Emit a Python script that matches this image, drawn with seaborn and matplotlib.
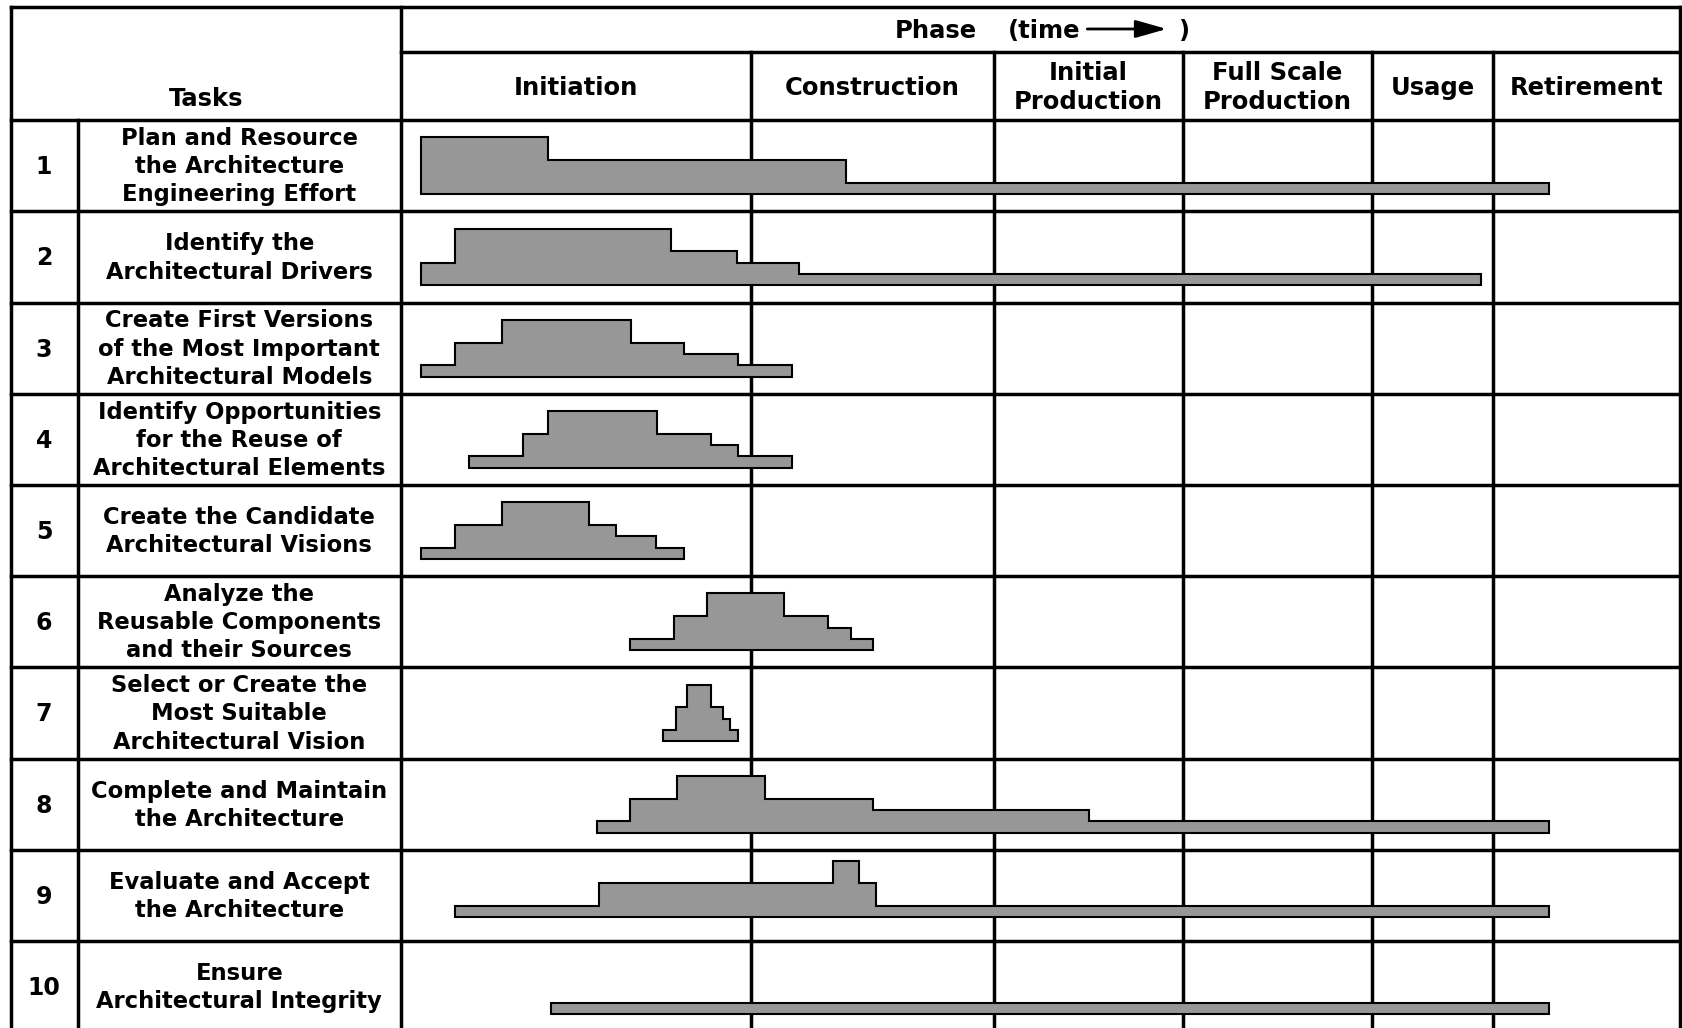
import pandas as pd
import matplotlib.pyplot as plt
import seaborn as sns

# Phases (time runs left to right, 0 = start of Initiation)
phases = ['Initiation', 'Construction', 'Initial\nProduction',
          'Full Scale\nProduction', 'Usage', 'Retirement']
phase_ends = [326, 552, 728, 904, 1017, 1191]

tasks = ['Plan and Resource\nthe Architecture\nEngineering Effort',
         'Identify the\nArchitectural Drivers',
         'Create First Versions\nof the Most Important\nArchitectural Models',
         'Identify Opportunities\nfor the Reuse of\nArchitectural Elements',
         'Create the Candidate\nArchitectural Visions',
         'Analyze the\nReusable Components\nand their Sources',
         'Select or Create the\nMost Suitable\nArchitectural Vision',
         'Complete and Maintain\nthe Architecture',
         'Evaluate and Accept\nthe Architecture',
         'Ensure\nArchitectural Integrity']

# step profiles: time breakpoints and effort level for each step
task_times = [
    [18, 137, 414, 1069],
    [18, 50, 251, 313, 370, 1006],
    [18, 50, 94, 214, 263, 314, 364],
    [63, 113, 137, 238, 288, 314, 364],
    [18, 50, 94, 175, 200, 237, 263],
    [213, 254, 285, 356, 397, 419, 439],
    [244, 256, 266, 288, 300, 306, 314],
    [182, 213, 257, 339, 439, 641, 1069],
    [50, 184, 402, 426, 442, 1069],
    [139, 1069],
]
task_levels = [
    [5, 3, 1],
    [2, 5, 3, 2, 1],
    [1, 3, 5, 3, 2, 1],
    [1, 3, 5, 3, 2, 1],
    [1, 3, 5, 3, 2, 1],
    [1, 3, 5, 3, 2, 1],
    [1, 3, 5, 3, 2, 1],
    [1, 3, 5, 3, 2, 1],
    [1, 3, 5, 3, 1],
    [1],
]

# layout (canvas units, y grows downward)
W, H = 1568, 958
X0 = 374            # x where the time axis starts
LEFT, RIGHT, TOP = 10, 1565, 6.5
SUB = 48.5          # line under "Phase (time ->)"
HDR = 112           # bottom of header
ROW_H = 85
NUM_X = 73
UNIT = 10.6         # height of one effort level
base_off = [69, 69, 69, 69, 69, 69, 69, 69, 63, 68]

sns.set_theme(style='white')
plt.rcParams['font.family'] = ['DejaVu Sans']

fig = plt.figure(figsize=(16.83, 10.28), dpi=100)
ax = fig.add_axes([0, 0, 1, 1])
ax.set_xlim(-X0, W - X0)
ax.set_ylim(H, 0)
ax.axis('off')

lw = 2.5
k = dict(color='black', lw=lw, zorder=1, capstyle='projecting')
# outer frame and dividers
ax.hlines(TOP, LEFT - X0, RIGHT - X0, **k)
ax.vlines([LEFT - X0, RIGHT - X0, 0], TOP, H - 2, **k)
ax.vlines(NUM_X - X0, HDR, H - 2, **k)
ax.hlines(SUB, 0, RIGHT - X0, **k)
ax.vlines(phase_ends[:-1], SUB, H - 2, **k)
row_tops = [HDR + ROW_H * i for i in range(len(tasks))]
ax.hlines(row_tops, LEFT - X0, RIGHT - X0, **k)

# header text
hf = dict(fontsize=17.5, fontweight='bold', color='black')
ax.text(192 - X0, 90, 'Tasks', ha='center', va='center_baseline', **hf)
ax.text(834 - X0, 26.5, 'Phase', ha='left', va='center_baseline', **hf)
ax.text(939 - X0, 26.5, '(time', ha='left', va='center_baseline', **hf)
ax.text(1098 - X0, 26.5, ')', ha='left', va='center_baseline', **hf)
ax.annotate('', xy=(1087 - X0, 27), xytext=(1013 - X0, 27),
            arrowprops=dict(arrowstyle='-|>,head_length=0.95,head_width=0.27',
                            mutation_scale=20, lw=2, color='black',
                            shrinkA=0, shrinkB=0))
starts = [0] + phase_ends[:-1]
for name, a, b in zip(phases, starts, phase_ends):
    lines = name.split('\n')
    for j, ln in enumerate(lines):
        y = 79.5 + (j - (len(lines) - 1) / 2) * 27
        ax.text((a + b) / 2, y, ln, ha='center', va='center_baseline', **hf)

# task rows
polys = []
for i, (name, times, levels) in enumerate(zip(tasks, task_times, task_levels)):
    top = row_tops[i]
    yc = top + ROW_H / 2
    ax.text(41 - X0, yc - 1, str(i + 1), ha='center', va='center_baseline',
            fontsize=17, fontweight='bold', color='black')
    lines = name.split('\n')
    for j, ln in enumerate(lines):
        y = yc - 1.5 + (j - (len(lines) - 1) / 2) * 26.3
        ax.text(223 - X0, y, ln, ha='center', va='center_baseline',
                fontsize=16.3, fontweight='bold', color='black')
    y0 = top + base_off[i]
    xs, ys = [times[0]], [y0]
    for t0, t1, lv in zip(times[:-1], times[1:], levels):
        xs += [t0, t1]
        ys += [y0 - lv * UNIT, y0 - lv * UNIT]
    xs += [times[-1], times[0]]
    ys += [y0, y0]
    ax.fill(xs, ys, color='#979797', zorder=3, lw=0)
    polys.append(pd.DataFrame({'t': xs, 'y': ys, 'task': i}))

outline = pd.concat(polys, ignore_index=True)
sns.lineplot(data=outline, x='t', y='y', units='task', estimator=None,
             sort=False, color='black', lw=1.5, ax=ax, zorder=4,
             legend=False, solid_joinstyle='miter')
ax.set_xlim(-X0, W - X0)
ax.set_ylim(H, 0)
ax.axis('off')

fig.savefig('out.png', dpi=100, facecolor='white')
